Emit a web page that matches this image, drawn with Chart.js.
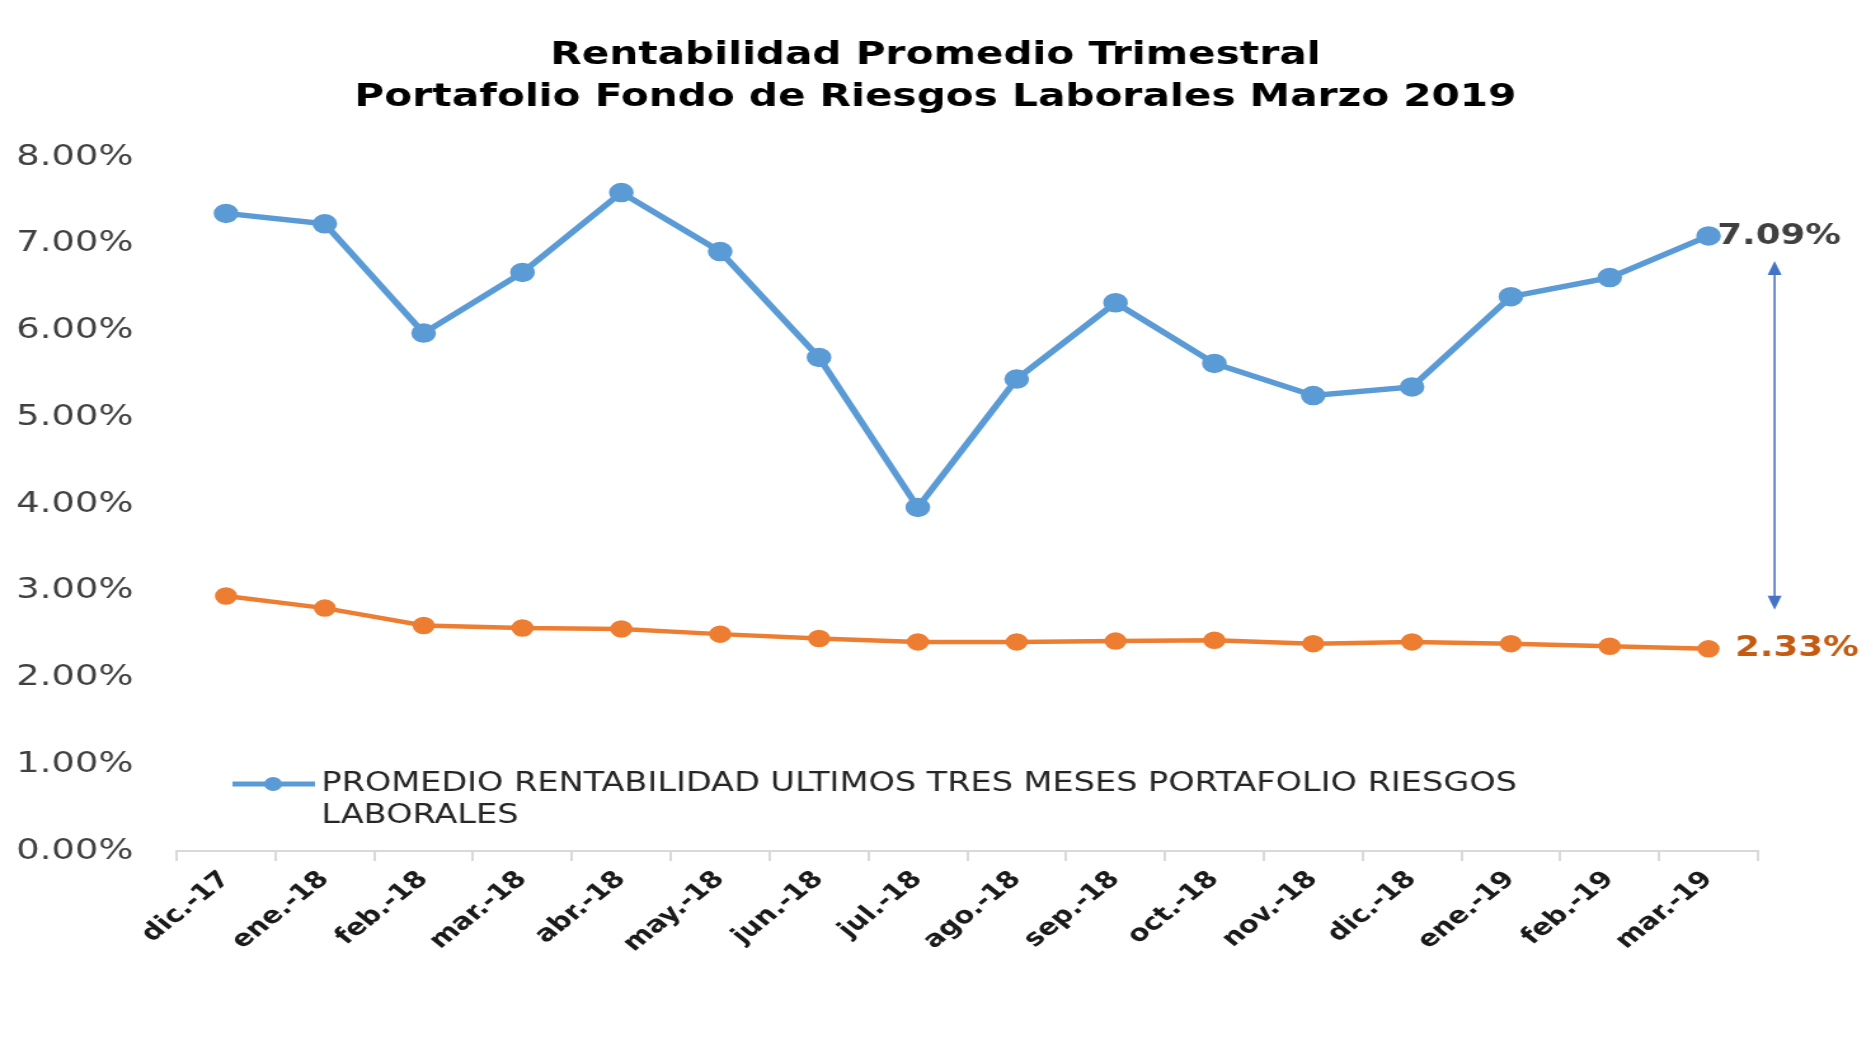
<!DOCTYPE html>
<html lang="es">
<head>
<meta charset="utf-8">
<title>Rentabilidad Promedio Trimestral</title>
<script src="https://cdn.jsdelivr.net/npm/chart.js@4.4.1/dist/chart.umd.min.js"></script>
<style>
    html, body { margin: 0; padding: 0; background: #ffffff; overflow: hidden; }
    #grafico { display: block; }
</style>
</head>
<body>
<!-- the original picture is stretched horizontally, so the canvas is too -->
<canvas id="grafico" width="1473" height="1045" style="width: 1871px; height: 1045px;"></canvas>
<script>
// Rentabilidad Promedio Trimestral - Portafolio Fondo de Riesgos Laborales

// Data
const meses = ['dic.-17', 'ene.-18', 'feb.-18', 'mar.-18', 'abr.-18', 'may.-18', 'jun.-18', 'jul.-18',
    'ago.-18', 'sep.-18', 'oct.-18', 'nov.-18', 'dic.-18', 'ene.-19', 'feb.-19', 'mar.-19'];

const rentabilidadPortafolio = [7.35, 7.23, 5.97, 6.67, 7.59, 6.91, 5.69, 3.96,
    5.44, 6.32, 5.62, 5.25, 5.35, 6.39, 6.61, 7.09];

const rentabilidadReferencia = [2.94, 2.80, 2.60, 2.57, 2.56, 2.50, 2.45, 2.41,
    2.41, 2.42, 2.43, 2.39, 2.41, 2.39, 2.36, 2.33];

const tituloLineas = ['Rentabilidad Promedio Trimestral', 'Portafolio Fondo de Riesgos Laborales Marzo 2019'];
const leyendaLineas = ['PROMEDIO RENTABILIDAD ULTIMOS TRES MESES PORTAFOLIO RIESGOS', 'LABORALES'];
const valoresY = [0, 8];
const flechaRango = [2.78, 6.80];

const AZUL = '#5B9BD5';
const NARANJA = '#ED7D31';
const FUENTE = "'DejaVu Sans', sans-serif";

// Title centered on the whole picture (not on the plot area)
const titulo = {
    id: 'titulo',
    afterDraw(chart) {
        const ctx = chart.ctx;
        ctx.save();
        ctx.font = 'bold 32px ' + FUENTE;
        ctx.fillStyle = '#000000';
        ctx.textAlign = 'center';
        ctx.textBaseline = 'middle';
        tituloLineas.forEach((linea, i) => {
            ctx.fillText(linea, chart.width / 2, 56 + i * 42);
        });
        ctx.restore();
    }
};

// Annotations: end labels, arrow and legend drawn on top of the lines
const anotaciones = {
    id: 'anotaciones',
    afterDatasetsDraw(chart) {
        const ctx = chart.ctx;
        const x = chart.scales.x;
        const y = chart.scales.y;
        const area = chart.chartArea;
        const ultimo = meses.length - 1;

        ctx.save();

        // end value labels
        ctx.font = 'bold 28px ' + FUENTE;
        ctx.textBaseline = 'middle';
        ctx.textAlign = 'left';
        ctx.fillStyle = '#404040';
        ctx.fillText(rentabilidadPortafolio[ultimo].toFixed(2) + '%',
            x.getPixelForValue(ultimo) + 7, y.getPixelForValue(rentabilidadPortafolio[ultimo]) + 1);
        ctx.fillStyle = '#C55A11';
        ctx.fillText(rentabilidadReferencia[ultimo].toFixed(2) + '%',
            x.getPixelForValue(ultimo) + 21, y.getPixelForValue(rentabilidadReferencia[ultimo]));

        // double arrow between the two series
        const fx = x.getPixelForValue(ultimo) + 52;
        const fTop = y.getPixelForValue(flechaRango[1]);
        const fBot = y.getPixelForValue(flechaRango[0]);
        ctx.strokeStyle = '#4472C4';
        ctx.fillStyle = '#4472C4';
        ctx.lineWidth = 1.6;
        ctx.beginPath();
        ctx.moveTo(fx, fTop + 10);
        ctx.lineTo(fx, fBot - 10);
        ctx.stroke();
        ctx.beginPath();
        ctx.moveTo(fx, fTop);
        ctx.lineTo(fx - 5.5, fTop + 14);
        ctx.lineTo(fx + 5.5, fTop + 14);
        ctx.closePath();
        ctx.fill();
        ctx.beginPath();
        ctx.moveTo(fx, fBot);
        ctx.lineTo(fx - 5.5, fBot - 14);
        ctx.lineTo(fx + 5.5, fBot - 14);
        ctx.closePath();
        ctx.fill();

        // legend (only the portfolio series)
        const lx = area.left + 44;
        const ly = area.bottom - 67;
        ctx.strokeStyle = AZUL;
        ctx.lineWidth = 5;
        ctx.beginPath();
        ctx.moveTo(lx, ly);
        ctx.lineTo(lx + 65, ly);
        ctx.stroke();
        ctx.fillStyle = AZUL;
        ctx.beginPath();
        ctx.arc(lx + 32, ly, 7, 0, Math.PI * 2);
        ctx.fill();
        ctx.font = '26.4px ' + FUENTE;
        ctx.fillStyle = '#262626';
        ctx.textAlign = 'left';
        leyendaLineas.forEach((linea, i) => {
            ctx.fillText(linea, lx + 70, ly + i * 32);
        });

        ctx.restore();
    }
};

function crearGrafico() {
    const ctx = document.getElementById('grafico');
    return new Chart(ctx, {
        type: 'line',
        data: {
            labels: meses,
            datasets: [{
                label: leyendaLineas.join(' '),
                data: rentabilidadPortafolio,
                borderColor: AZUL,
                backgroundColor: AZUL,
                borderWidth: 5.5,
                pointRadius: 7,
                pointHoverRadius: 7,
                tension: 0
            }, {
                label: 'Referencia',
                data: rentabilidadReferencia,
                borderColor: NARANJA,
                backgroundColor: NARANJA,
                borderWidth: 4.5,
                pointRadius: 6.5,
                pointHoverRadius: 6.5,
                tension: 0
            }]
        },
        options: {
            responsive: false,
            animation: false,
            devicePixelRatio: 1,
            layout: {
                padding: { left: 0, right: 89, top: 157, bottom: 0 }
            },
            plugins: {
                legend: { display: false },
                tooltip: { enabled: false },
                title: { display: false }
            },
            scales: {
                x: {
                    offset: true,
                    grid: {
                        display: true,
                        offset: true,
                        drawOnChartArea: false,
                        drawTicks: true,
                        tickLength: 10,
                        color: '#D9D9D9',
                        lineWidth: 2
                    },
                    border: { display: true, color: '#D9D9D9', width: 2 },
                    ticks: {
                        autoSkip: false,
                        maxRotation: 45,
                        minRotation: 45,
                        padding: 5,
                        color: '#1a1a1a',
                        font: { family: FUENTE, size: 23, weight: 'bold' }
                    },
                    afterFit(scale) { scale.height = 194; }
                },
                y: {
                    min: valoresY[0],
                    max: valoresY[1],
                    grid: { display: false, drawTicks: false },
                    border: { display: false },
                    ticks: {
                        stepSize: 1,
                        padding: 34,
                        color: '#404040',
                        font: { family: FUENTE, size: 29 },
                        callback: (v) => v.toFixed(2) + '%'
                    },
                    afterFit(scale) { scale.width = 139; }
                }
            }
        },
        plugins: [titulo, anotaciones]
    });
}

document.addEventListener('DOMContentLoaded', () => {
    crearGrafico();
});
</script>
</body>
</html>
